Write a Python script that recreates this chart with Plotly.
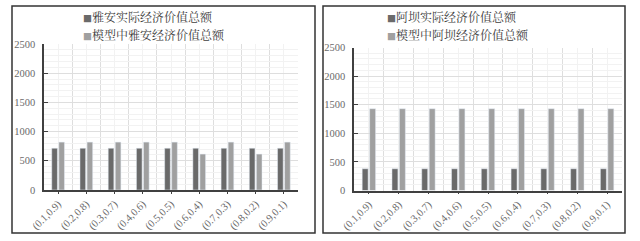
import plotly.graph_objects as go

categories = ["(0.1,0.9)", "(0.2,0.8)", "(0.3,0.7)", "(0.4,0.6)", "(0.5,0.5)",
              "(0.6,0.4)", "(0.7,0.3)", "(0.8,0.2)", "(0.9,0.1)"]
yaan_actual = [715, 715, 715, 715, 715, 715, 715, 715, 715]
yaan_model = [820, 820, 820, 820, 820, 615, 820, 615, 820]
aba_actual = [380, 380, 380, 380, 380, 380, 380, 380, 380]
aba_model = [1430, 1430, 1430, 1430, 1430, 1430, 1430, 1430, 1430]
legend_left = ["雅安实际经济价值总额", "模型中雅安经济价值总额"]
legend_right = ["阿坝实际经济价值总额", "模型中阿坝经济价值总额"]
y_ticks = [0, 500, 1000, 1500, 2000, 2500]

DARK = "#6a6a6a"
LIGHT = "#a0a0a0"
W, H = 640, 241
xs = list(range(len(categories)))

fig = go.Figure()
fig.add_bar(x=xs, y=yaan_actual, marker_color=DARK, name=legend_left[0], xaxis="x", yaxis="y")
fig.add_bar(x=xs, y=yaan_model, marker_color=LIGHT, name=legend_left[1], xaxis="x", yaxis="y")
fig.add_bar(x=xs, y=aba_actual, marker_color=DARK, name=legend_right[0], xaxis="x2", yaxis="y2")
fig.add_bar(x=xs, y=aba_model, marker_color=LIGHT, name=legend_right[1], xaxis="x2", yaxis="y2")

serif = "Liberation Serif, Times New Roman, serif"

def xax(domain, anchor):
    return dict(domain=domain, anchor=anchor, range=[-0.5, 8.5], automargin=False,
                tickmode="array", tickvals=xs, ticktext=categories, tickangle=-45,
                ticks="outside", ticklen=2, tickcolor="#404040",
                showgrid=True, gridcolor="#f2f2f2", gridwidth=1,
                minor=dict(tickmode="array", tickvals=[i - 0.5 for i in range(10)],
                           showgrid=True, gridcolor="#dedede", gridwidth=1, ticks=""),
                showline=True, linecolor="#404040", linewidth=1.5,
                tickfont=dict(family=serif, size=10.5, color="#6a6a6a"),
                zeroline=False, fixedrange=True)

def yax(domain, anchor):
    return dict(domain=domain, anchor=anchor, range=[0, 2500], automargin=False,
                tickmode="array", tickvals=y_ticks,
                ticks="inside", ticklen=4, tickcolor="#404040",
                showgrid=True, gridcolor="#dedede", gridwidth=1,
                minor=dict(dtick=100, tick0=0, showgrid=True, gridcolor="#f2f2f2", ticks=""),
                showline=True, linecolor="#404040", linewidth=1.5,
                tickfont=dict(family=serif, size=10.5, color="#6a6a6a"),
                ticklabelstandoff=5,
                zeroline=False, fixedrange=True)

fig.update_layout(
    width=W, height=H, margin=dict(l=0, r=0, t=0, b=0, autoexpand=False),
    paper_bgcolor="white", plot_bgcolor="white",
    showlegend=False, barmode="group", bargap=0.5, bargroupgap=0.2,
    xaxis=xax([44 / W, 298 / W], "y"),
    yaxis=yax([(H - 190) / H, (H - 44) / H], "x"),
    xaxis2=xax([354 / W, 622 / W], "y2"),
    yaxis2=yax([(H - 190.5) / H, (H - 47.5) / H], "x2"),
)

# panel borders
for x0, x1 in [(12, 315), (323, 625)]:
    fig.add_shape(type="rect", xref="paper", yref="paper",
                  x0=x0 / W, x1=x1 / W, y0=(H - 233) / H, y1=(H - 6) / H,
                  line=dict(color="#333333", width=1.5), fillcolor="rgba(0,0,0,0)")

# legends as text with colored squares
cjk = "Noto Serif CJK SC, Noto Sans CJK SC, serif"
for labels, xl in [(legend_left, 81), (legend_right, 385)]:
    for i, (lab, col) in enumerate(zip(labels, [DARK, LIGHT])):
        yc = 17 if i == 0 else 34
        fig.add_annotation(xref="paper", yref="paper", x=xl / W, y=(H - yc) / H,
                           xanchor="left", yanchor="middle", showarrow=False,
                           text=f"<span style='color:{col};font-size:9px'>■</span>{lab}",
                           font=dict(family=cjk, size=12, color="#404040"))

fig.write_html("out.html")
